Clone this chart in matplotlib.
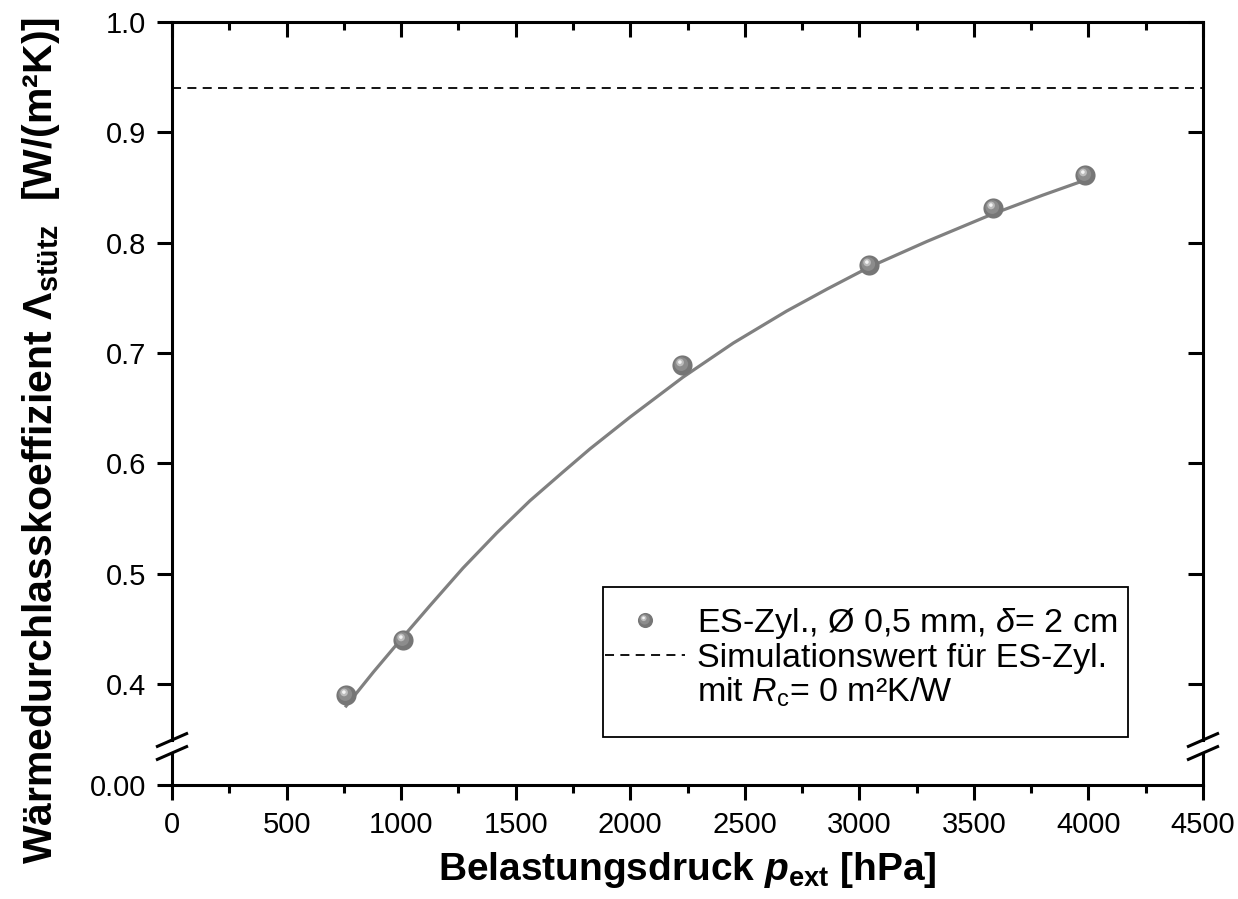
import matplotlib
matplotlib.use("Agg")
import matplotlib.pyplot as plt
from matplotlib.lines import Line2D
from matplotlib.patches import Rectangle
from matplotlib.path import Path
from matplotlib.legend_handler import HandlerTuple

# measured points
P_EXT = [760, 1010, 2225, 3041, 3582, 3983]
LAMBDA = [0.390, 0.440, 0.689, 0.780, 0.831, 0.861]

# fitted curve
FIT_P = [760, 880, 1010, 1126, 1270, 1418, 1562, 1706, 1824, 2000,
         2230, 2450, 2683, 2860, 3045, 3294, 3582, 3800, 3990]
FIT_L = [0.380, 0.411, 0.443, 0.471, 0.505, 0.537, 0.566, 0.592, 0.613, 0.642,
         0.678, 0.709, 0.738, 0.758, 0.778, 0.801, 0.826, 0.843, 0.857]

SIM_VALUE = 0.94

XTICKS = [0, 500, 1000, 1500, 2000, 2500, 3000, 3500, 4000, 4500]
YTICKS = [0.4, 0.5, 0.6, 0.7, 0.8, 0.9, 1.0]

plt.rcParams['font.family'] = ['Liberation Sans', 'DejaVu Sans']
plt.rcParams['mathtext.fontset'] = 'custom'
plt.rcParams['mathtext.rm'] = 'Liberation Sans'
plt.rcParams['mathtext.it'] = 'Liberation Sans:italic'
plt.rcParams['mathtext.bf'] = 'Liberation Sans:bold'
plt.rcParams['mathtext.bfit'] = 'Liberation Sans:bold:italic'

W, H = 1238, 899
fig = plt.figure(figsize=(W / 100, H / 100), dpi=100)

L, R = 172, 1203
TOP, BRK_T, BRK_B, BOT = 22, 740, 753, 785
ax = fig.add_axes([L / W, 1 - BRK_T / H, (R - L) / W, (BRK_T - TOP) / H])
axb = fig.add_axes([L / W, 1 - BOT / H, (R - L) / W, (BOT - BRK_B) / H], sharex=ax)

SPW = 2.2
TICK_FS = 21
MAJ, MIN = 11, 6
for a in (ax, axb):
    for s in a.spines.values():
        s.set_linewidth(SPW)

ax.set_xlim(0, 4500)
ax.set_ylim(0.4 - (BRK_T - 684) / 1102, 1.0)
axb.set_ylim(0, (BOT - BRK_B) / 1102)

ax.spines['bottom'].set_visible(False)
axb.spines['top'].set_visible(False)

ax.set_yticks(YTICKS)
ax.set_yticklabels([f"{v:.1f}" for v in YTICKS])
ax.tick_params(axis='y', which='major', direction='out', length=MAJ, width=SPW,
               labelsize=TICK_FS, left=True, right=False, pad=7.5)
# right side ticks point inward
ax2 = ax.twinx()
ax2.set_ylim(ax.get_ylim())
ax2.set_yticks(YTICKS)
ax2.tick_params(axis='y', direction='in', length=MAJ, width=SPW, labelright=False)
for s in ax2.spines.values():
    s.set_visible(False)

ax.set_xticks(XTICKS)
ax.set_xticks(range(250, 4500, 500), minor=True)
ax.tick_params(axis='x', which='major', direction='in', length=MAJ, width=SPW,
               top=True, bottom=False, labelbottom=False)
ax.tick_params(axis='x', which='minor', direction='in', length=MIN, width=SPW,
               top=True, bottom=False)

axb.set_yticks([0.0])
axb.set_yticklabels(["0.00"])
axb.tick_params(axis='y', direction='out', length=MAJ, width=SPW, labelsize=TICK_FS, pad=7.5)
axb.tick_params(axis='x', which='major', direction='out', length=MAJ, width=SPW,
                labelsize=TICK_FS, bottom=True, top=False, pad=8)
axb.tick_params(axis='x', which='minor', direction='out', length=MIN, width=SPW,
                bottom=True, top=False)
axb.set_xticklabels([str(v) for v in XTICKS])

# break marks
dx = 16 / (R - L)
for a, hgt, y0 in ((ax, BRK_T - TOP, 0.0), (axb, BOT - BRK_B, 1.0)):
    dy = 7 / hgt
    for x0 in (0.0, 1.0):
        a.plot([x0 - dx, x0 + dx], [y0 - dy, y0 + dy], transform=a.transAxes,
               color='black', lw=SPW, clip_on=False, solid_capstyle='butt')

# sphere markers
def offset_circle(cx, cy, r):
    frame = Path([[0.5, 0.5], [-0.5, -0.5]], [Path.MOVETO, Path.MOVETO])
    return Path.make_compound_path(frame, Path.circle((cx, cy), r))

MS = 14.5
sphere_layers = [
    dict(marker='o', color='#767676'),
    dict(marker=offset_circle(-0.06, 0.07, 0.34), color='#8c8c8c'),
    dict(marker=offset_circle(-0.12, 0.15, 0.19), color='#bcbcbc'),
    dict(marker=offset_circle(-0.13, 0.17, 0.09), color='#f4f4f4'),
]

ax.axhline(SIM_VALUE, color='black', lw=1.3, ls=(0, (5, 3.5)))
ax.plot(FIT_P, FIT_L, color='#808080', lw=2.3, zorder=3)
sph = []
for lay in sphere_layers:
    ax.plot(P_EXT, LAMBDA, ls='none', marker=lay['marker'], ms=MS,
            mfc=lay['color'], mec='none', zorder=4)
    sph.append(Line2D([], [], ls='none', marker=lay['marker'], ms=MS * 0.75,
                      mfc=lay['color'], mec='none'))

# legend box
bx0, by0 = (603 - L) / (R - L), (BRK_T - 737) / (BRK_T - TOP)
bx1, by1 = (1128 - L) / (R - L), (BRK_T - 587) / (BRK_T - TOP)
ax.add_patch(Rectangle((bx0, by0), bx1 - bx0, by1 - by0, transform=ax.transAxes,
                       facecolor='white', edgecolor='black', lw=1.3, zorder=5))

dash_h = Line2D([], [], color='black', lw=1.3, ls=(0, (5, 3.5)))
blank_h = Line2D([], [], color='none')
leg = ax.legend([tuple(sph), dash_h, blank_h],
                [r'ES-Zyl., Ø 0,5 mm, $\delta$= 2 cm',
                 'Simulationswert für ES-Zyl.',
                 r'mit $R_{\mathrm{c}}$= 0 m²K/W'],
                handler_map={tuple: HandlerTuple(ndivide=1)},
                loc='upper left', bbox_to_anchor=((605 - L) / (R - L), by1 - 19 / (BRK_T - TOP)),
                fontsize=24.5, frameon=False, borderaxespad=0, borderpad=0,
                labelspacing=0.06, handlelength=2.35, handletextpad=0.35)
leg.set_zorder(6)

fig.text(687 / W, 1 - 880 / H, r'Belastungsdruck $\mathbfit{p}_{\mathbf{ext}}$ [hPa]',
         ha='center', va='baseline', fontsize=28, fontweight='bold')
fig.text(52 / W, 1 - 440 / H,
         r'Wärmedurchlasskoeffizient $\mathbf{\Lambda}_{\mathbf{stütz}}$  [W/(m²K)]',
         ha='center', va='baseline', rotation=90, rotation_mode='anchor',
         fontsize=29.5, fontweight='bold')

fig.savefig('out.png', dpi=100)
